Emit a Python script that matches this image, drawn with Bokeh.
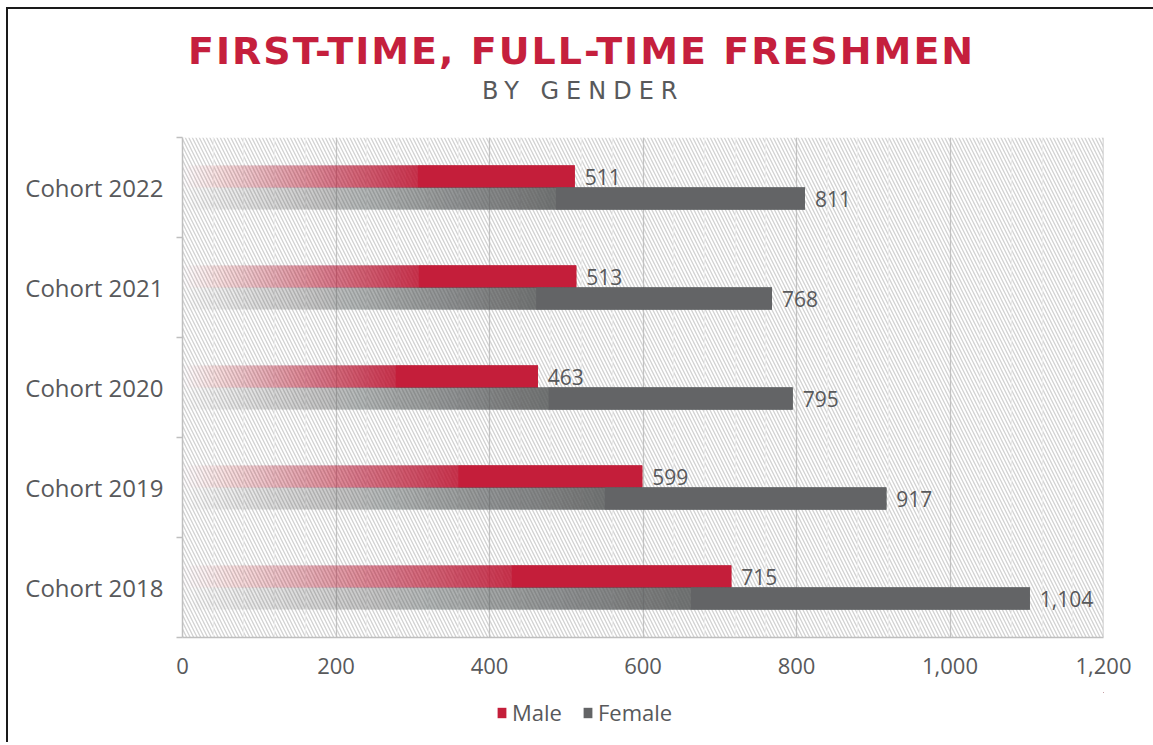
from bokeh.plotting import figure
from bokeh.layouts import column
from bokeh.models import (ColumnDataSource, FixedTicker, SingleIntervalTicker,
                          NumeralTickFormatter, Range1d, Legend, LegendItem,
                          BoxAnnotation, Span, Div)
from bokeh.core.properties import value
from bokeh.embed import file_html
from bokeh.resources import INLINE

# ---------------- data ----------------
cohorts = ["Cohort 2018", "Cohort 2019", "Cohort 2020", "Cohort 2021", "Cohort 2022"]
male = [715, 599, 463, 513, 511]
female = [1104, 917, 795, 768, 811]
series_names = ["Male", "Female"]
series_colors = ["#C41E3A", "#636466"]
x_tick_values = [0, 200, 400, 600, 800, 1000, 1200]

title_text = "FIRST-TIME, FULL-TIME FRESHMEN"
subtitle_text = "BY GENDER"

# ---------------- style ----------------
FONT = "Open Sans"
TEXT = "#58595B"
AXIS = "#bfbfbf"
N_SEG = 40
FADE = 0.6
BAR_H = 0.22
W = 1145

# ---------------- title block ----------------
title_html = (
    f'<div style="font-family:\'DejaVu Sans\';font-weight:bold;font-size:38px;'
    f'letter-spacing:2px;color:#C51F3D;line-height:38px;text-align:left;'
    f'padding-top:23px;padding-left:180px;white-space:nowrap">{title_text}</div>'
    f'<div style="font-family:\'DejaVu Sans\';font-size:24px;letter-spacing:7px;'
    f'color:#58595B;line-height:24px;text-align:left;margin-top:9px;'
    f'padding-left:474px;white-space:nowrap">{subtitle_text}</div>'
)
head = Div(text=title_html, width=W, height=108, styles={"margin": "0"})

# ---------------- main chart ----------------
p = figure(x_range=Range1d(0, 1200), y_range=Range1d(0, 5),
           output_backend="svg", toolbar_location=None,
           frame_width=921, frame_height=500,
           min_border_left=174, min_border_right=W - 174 - 921,
           min_border_top=20, min_border_bottom=55)
p.outline_line_color = None
p.background_fill_color = "white"
p.border_fill_color = "white"

bg = BoxAnnotation(fill_alpha=0, line_color=None, hatch_pattern="\\",
                   hatch_color="#d2d2d2", hatch_scale=7, hatch_weight=1.3,
                   level="image")
p.add_layout(bg)

centers = [i + 0.5 for i in range(len(cohorts))]


def layered_sources(vals, off):
    """Fade: stacked translucent layers that all run to the bar end, so no seams."""
    fy, fl, fr, fa = [], [], [], []
    sy, sl, sr = [], [], []
    for c, v in zip(centers, vals):
        y = c + off
        edge = v * FADE
        prev = 0.0
        for k in range(N_SEG):
            target = 0.88 * (k + 0.5) / N_SEG
            a = 1 - (1 - target) / (1 - prev)
            prev = target
            fy.append(y); fl.append(edge * k / N_SEG); fr.append(v); fa.append(a)
        sy.append(y); sl.append(edge); sr.append(v)
    return (ColumnDataSource(dict(y=fy, left=fl, right=fr, alpha=fa)),
            ColumnDataSource(dict(y=sy, left=sl, right=sr)))


solid_sources = []
for vals, name, color, off in zip([male, female], series_names, series_colors,
                                  [BAR_H / 2, -BAR_H / 2]):
    fade, solid = layered_sources(vals, off)
    solid_sources.append(solid)
    p.hbar(y="y", left="left", right="right", height=BAR_H, source=fade,
           fill_color=color, fill_alpha="alpha", line_color=None)
    p.hbar(y="y", left="left", right="right", height=BAR_H, source=solid,
           fill_color=color, line_color=None)
    lab = ColumnDataSource(dict(x=vals, y=[c + off for c in centers],
                                text=[f"{v:,}" for v in vals]))
    p.text(x="x", y="y", text="text", source=lab, x_offset=10,
           text_baseline="middle", text_align="left",
           text_font=value(FONT), text_font_size="21px", text_color=TEXT)

p.add_layout(Span(location=1200, dimension="height", line_color=AXIS, line_width=1.5))

xt = SingleIntervalTicker(interval=200, num_minor_ticks=5)
p.xaxis.ticker = xt
p.xaxis.formatter = NumeralTickFormatter(format="0,0")
p.xaxis.major_tick_line_color = None
p.xaxis.minor_tick_line_color = None
p.xaxis.major_tick_out = 0
p.xaxis.axis_line_color = AXIS
p.xaxis.axis_line_width = 1.5
p.xaxis.major_label_standoff = 16
p.xaxis.major_label_text_font = FONT
p.xaxis.major_label_text_font_size = "22px"
p.xaxis.major_label_text_color = TEXT

p.yaxis.ticker = FixedTicker(ticks=centers, minor_ticks=list(range(len(cohorts) + 1)))
p.yaxis.major_label_overrides = {c: n for c, n in zip(centers, cohorts)}
p.yaxis.major_tick_line_color = None
p.yaxis.major_tick_out = 0
p.yaxis.minor_tick_line_color = AXIS
p.yaxis.minor_tick_line_width = 1.5
p.yaxis.minor_tick_out = 6
p.yaxis.minor_tick_in = 0
p.yaxis.axis_line_color = AXIS
p.yaxis.axis_line_width = 1.5
p.yaxis.major_label_standoff = 13
p.yaxis.major_label_text_font = FONT
p.yaxis.major_label_text_font_size = "24px"
p.yaxis.major_label_text_color = TEXT

p.xgrid.ticker = xt
p.xgrid.grid_line_color = "#c2c2c2"
p.xgrid.grid_line_width = 1.2
p.xgrid.minor_grid_line_color = "#ececec"
p.xgrid.minor_grid_line_width = 1.2
p.ygrid.grid_line_color = None

# ---------------- legend strip ----------------
leg = figure(width=W, height=50, x_range=Range1d(-2, -1), y_range=Range1d(-2, -1),
             x_axis_type=None, y_axis_type=None, output_backend="svg",
             toolbar_location=None, min_border=0)
leg.outline_line_color = None
items = []
for src, name, color in zip(solid_sources, series_names, series_colors):
    r = leg.hbar(y="y", left="left", right="right", height=BAR_H, source=src,
                 fill_color=color, line_color=None)
    items.append(LegendItem(label=name, renderers=[r]))
legend = Legend(items=items, orientation="horizontal", location=(314, 15),
                label_text_font=FONT, label_text_font_size="22px",
                label_text_color=TEXT, glyph_width=11, glyph_height=13,
                label_standoff=5, spacing=20, border_line_color=None,
                background_fill_alpha=0, padding=0, margin=0)
leg.add_layout(legend)

layout = column(head, p, leg, spacing=0,
                styles={"margin-left": "6px", "margin-top": "7px",
                        "border-left": "2px solid #1a1a1a",
                        "border-top": "2px solid #1a1a1a"})

open("out.html", "w").write(file_html(layout, INLINE))
